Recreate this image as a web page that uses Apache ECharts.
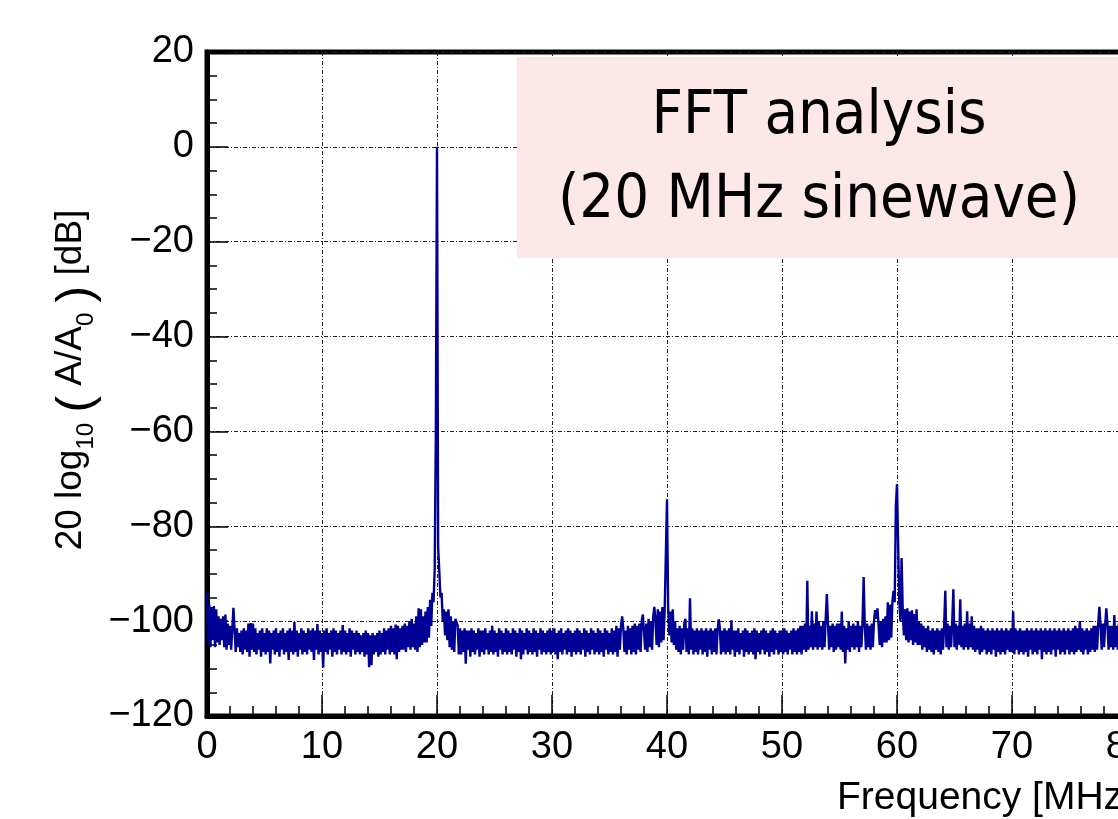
<!DOCTYPE html>
<html>
<head>
<meta charset="utf-8">
<title>FFT analysis</title>
<script src="https://cdn.jsdelivr.net/npm/echarts@6/dist/echarts.min.js"></script>
<style>
html, body { margin: 0; padding: 0; background: #fff; }
#chart_fft { width: 1118px; height: 819px; }
</style>
</head>
<body>
<div id="chart_fft"></div>
<script>
//FFT bin width (MHz), bins start at 0 MHz
var binWidth = 0.1;
//amplitude per bin [dB], 10 bins per line (one line = 1 MHz)
var dbValues = [
	-94, -104.5, -96.5, -105.5, -97, -104, -96.8, -105.5, -97.5, -104.5,
	-99, -105, -99.5, -104, -99, -105.5, -98.6, -106, -100.5, -105,
	-101, -106, -101.5, -97.2, -102, -106.5, -101.5, -105.5, -102.5, -106.5,
	-102, -107, -101.5, -106, -102, -106.5, -100.5, -107.5, -100.4, -106,
	-100.5, -106.5, -101.5, -107, -102.5, -106, -102, -107.5, -101.5, -106.5,
	-102.5, -107, -101.5, -106.5, -102, -108.9, -102.5, -106, -102, -107,
	-101.5, -106.5, -102.5, -107.5, -102, -106, -101.5, -107, -102.5, -106.5,
	-102, -108.2, -101.5, -106.5, -102, -107, -100.2, -106.5, -102, -107.5,
	-102.5, -106, -101.5, -107, -102, -106.5, -102.5, -107, -101.5, -106,
	-102, -106.5, -101.5, -108.2, -102, -106, -100.6, -107, -102, -106.5,
	-102.5, -109.8, -102, -106.5, -101.5, -107, -102.5, -106, -102, -107.5,
	-101.5, -106.5, -102, -107, -102.5, -106, -102, -107, -100.8, -106.5,
	-102, -107, -102.5, -106.5, -101.5, -107.5, -102, -106, -102.5, -107,
	-102, -106.5, -102.5, -107, -103, -106.5, -102.5, -107.5, -102, -107,
	-102.5, -109.7, -103, -109.3, -102.5, -107, -103, -106.5, -102.5, -107.5,
	-102, -107, -102.5, -106.5, -101.5, -107, -102, -106, -101.5, -107,
	-101, -106.5, -101.5, -107, -100.7, -108, -101, -106.5, -101.5, -106,
	-101, -106, -100.5, -106.5, -101, -105.5, -100, -106, -99.5, -105.5,
	-100.5, -106, -99, -106.5, -97.3, -105.5, -97.5, -105, -99, -104.5,
	-98, -104.5, -97, -103.5, -95.5, -101, -94, -96, -89, -60,
	0, -84.5, -89.5, -95, -94, -100, -97.5, -103, -98, -104,
	-97.5, -105.5, -99, -106, -100, -106.5, -99.5, -99.1, -101, -107,
	-101.5, -107, -102, -106.5, -101.5, -109, -102, -106, -102, -107.5,
	-101.5, -106.5, -102, -107, -102.5, -106, -101.5, -107.5, -102, -106.5,
	-102, -107, -101.5, -106, -102.5, -107, -102, -106.5, -101, -107,
	-102, -106.5, -102.5, -107.5, -101.5, -106, -102, -107, -102.5, -106.5,
	-101.5, -107, -102, -106.5, -102.5, -107, -101.5, -106, -102, -107.5,
	-102.5, -106.5, -101.5, -108, -102, -107, -102.5, -106, -101.5, -107,
	-102, -106.5, -102.5, -107, -101.5, -106.5, -102, -107.5, -102.5, -106,
	-101.5, -107, -102, -106.5, -102.5, -107, -102, -106.5, -101.5, -107,
	-102, -106.5, -101.5, -107, -102.5, -108, -102, -106.5, -101.5, -107,
	-102.5, -106, -102, -107, -101.5, -106.5, -102, -107.5, -102.5, -106.5,
	-102, -107, -101.5, -106.5, -102, -107, -102.5, -106, -101.5, -107.5,
	-102, -106.5, -102.5, -107, -101.5, -106, -102, -107, -102.5, -106.5,
	-101.5, -107, -102, -106.5, -102.5, -107.5, -101.5, -106, -102, -107,
	-102.5, -106.5, -101.5, -107, -102, -106.5, -101, -107.5, -101.5, -106,
	-101, -99, -101.5, -106.5, -102, -107, -101, -106, -101.5, -107,
	-101, -106.5, -100.5, -107, -101, -106, -100.5, -106.5, -100, -98.6,
	-98.2, -106, -100.5, -106.5, -99.5, -105.5, -100, -106, -99, -97,
	-100, -105, -97.5, -105.5, -98, -104.5, -97, -104, -97.5, -86,
	-74.3, -97, -103, -98, -104.5, -97.5, -105, -100, -106, -101.5,
	-106.5, -101, -107, -101.5, -106, -100.5, -99.5, -106.5, -101.5, -107,
	-95.2, -106, -101.5, -107, -102, -106.5, -101.5, -107, -102, -106,
	-101.5, -107, -102, -106.5, -101.5, -107.5, -102, -106, -101.5, -107,
	-102, -106.5, -101.5, -107, -102, -99.6, -101.5, -107, -102, -106.5,
	-101.5, -107, -102, -106.5, -101.5, -107, -99.8, -106, -102, -107.5,
	-102, -106.5, -101.5, -107, -102.5, -106, -102, -107.5, -101.5, -106.5,
	-102, -107, -102.5, -106.5, -102, -107, -101.5, -108, -102, -106.5,
	-102.5, -107, -102, -106, -101.5, -107, -102, -106.5, -102.5, -107.5,
	-102, -106.5, -101.5, -107, -102, -106, -102.5, -107, -102, -106.5,
	-102, -107, -101.5, -106.5, -102, -107, -102.5, -106, -102, -107,
	-101.5, -106.5, -102, -107, -101.5, -106.5, -101, -107, -101, -106,
	-100.5, -106.5, -91.5, -106, -101, -105.5, -97.9, -106, -100.5, -105.5,
	-98, -106, -100, -105.5, -101, -106, -100, -105.5, -99.5, -94.3,
	-100.5, -106, -101, -105.5, -100.5, -106.5, -101, -106, -100.5, -105.5,
	-100.5, -106, -98, -106.5, -101, -108.9, -101.5, -106, -100, -106.5,
	-101, -105.5, -100.5, -106, -101, -105.5, -100, -106.5, -101, -105.5,
	-100.5, -90.7, -101, -106, -100.5, -105.5, -101, -106, -100.5, -105.5,
	-100, -97.7, -99.5, -97.3, -101, -105, -100, -105.5, -99.5, -104.5,
	-99, -104.5, -96, -104, -96.5, -103.5, -96, -93.6, -96, -75.8,
	-71.1, -84, -96, -100, -86.7, -98, -103, -97.5, -104, -97.3,
	-104.5, -98, -104, -97.7, -105, -98.5, -104.5, -97.5, -105, -100,
	-105, -100.5, -106, -101, -105.5, -101.5, -106.5, -101, -106, -102,
	-106.5, -101.5, -107, -102, -106, -101.5, -106.5, -102, -107, -101.5,
	-106, -101, -93.6, -105.5, -100.5, -106, -101, -105.5, -100.5, -93.3,
	-105.5, -100.5, -106, -101, -105, -95.4, -105.5, -101, -106, -100.5,
	-105.5, -97.9, -106, -100.5, -105.5, -99, -106, -101, -106.5, -101.5,
	-106, -101.5, -107, -101, -106.5, -101.5, -106, -102, -107, -101.5,
	-106.5, -102, -107, -101.5, -106, -102, -107.5, -101.5, -106.5, -102,
	-107, -101.5, -106.5, -102, -107, -101.5, -106, -102, -106.5, -101.5,
	-106.5, -97.9, -107, -101.5, -106, -102, -107, -101.5, -106.5, -102,
	-107, -102, -106.5, -101.5, -107.5, -102, -106, -101.5, -107, -102,
	-106.5, -101.5, -107, -102, -106, -101.5, -108, -102, -106.5, -101.5,
	-107, -102, -106.5, -101.5, -107, -102, -106, -101.5, -107.5, -102,
	-106, -101.5, -107, -102, -106.5, -101.5, -107, -102, -106, -101.5,
	-107, -102, -106.5, -101.5, -107, -101, -106.5, -101.5, -106, -100,
	-106.5, -101.5, -107, -102, -106, -101.5, -107, -102, -106.5, -101.5,
	-106, -101, -106.5, -101, -106, -100.5, -97, -101, -106, -100.5,
	-105.5, -101, -97.3, -100.5, -106, -101, -105.5, -101, -106, -98.7,
	-105.5, -101, -106, -100.5, -105.5, -101, -106, -100.5, -105.5, -101,
	-106
];
//axis ranges [MHz] / [dB]
var freqMin = 0, freqMax = 100, freqStep = 10;
var dbMin = -120, dbMax = 20, dbStep = 20;

var fftData = dbValues.map(function(v, i) {
	return [Math.round(i * binWidth * 10) / 10, v];
});

var gridDash = {
	color: '#222',
	width: 1,
	type: [4, 2, 1, 2]
};

var option_fft = {
	animation: false,
	backgroundColor: '#fff',
	grid: {
		left: 207,
		top: 52,
		width: 1150,
		height: 664,
		outerBoundsMode: 'none',
		containLabel: false,
		show: true,
		borderColor: '#000',
		borderWidth: 5,
		backgroundColor: 'transparent'
	},
	xAxis: {
		type: 'value',
		min: freqMin,
		max: freqMax,
		interval: freqStep,
		axisLine: { show: true, onZero: false, lineStyle: { color: '#000', width: 5 } },
		axisTick: { show: true, inside: true, length: 21, lineStyle: { color: '#000', width: 1.5 } },
		minorTick: { show: true, splitNumber: 5, length: 10, lineStyle: { color: '#000', width: 1.5 } },
		axisLabel: {
			color: '#000',
			fontFamily: 'Liberation Sans',
			fontSize: 38,
			margin: 13
		},
		splitLine: { show: true, lineStyle: gridDash }
	},
	yAxis: {
		type: 'value',
		min: dbMin,
		max: dbMax,
		interval: dbStep,
		axisLine: { show: true, onZero: false, lineStyle: { color: '#000', width: 5 } },
		axisTick: { show: true, inside: true, length: 21, lineStyle: { color: '#000', width: 1.5 } },
		minorTick: { show: true, splitNumber: 4, length: 10, lineStyle: { color: '#000', width: 1.5 } },
		axisLabel: {
			color: '#000',
			fontFamily: 'Liberation Sans',
			fontSize: 38,
			margin: 13,
			formatter: function(v) {
				return String(v).replace('-', '\u2212');
			}
		},
		splitLine: { show: true, lineStyle: gridDash }
	},
	graphic: [{
		type: 'rect',
		z: 10,
		shape: { x: 517, y: 57, width: 700, height: 201 },
		style: { fill: '#fde8e8' }
	}, {
		type: 'text',
		z: 11,
		x: 819,
		y: 117,
		style: {
			text: 'FFT analysis',
			fill: '#000',
			font: '61px "DejaVu Sans Condensed", "Liberation Sans Narrow", sans-serif',
			align: 'center',
			verticalAlign: 'middle'
		}
	}, {
		type: 'text',
		z: 11,
		x: 819,
		y: 201,
		style: {
			text: '(20 MHz sinewave)',
			fill: '#000',
			font: '61px "DejaVu Sans Condensed", "Liberation Sans Narrow", sans-serif',
			align: 'center',
			verticalAlign: 'middle'
		}
	}, {
		type: 'text',
		z: 11,
		x: 837,
		y: 798,
		style: {
			text: 'Frequency [MHz]',
			fill: '#000',
			font: '39px "Liberation Sans", sans-serif',
			align: 'left',
			verticalAlign: 'middle'
		}
	}, {
		type: 'text',
		z: 11,
		x: 75,
		y: 380,
		rotation: Math.PI / 2,
		style: {
			text: '{a|20 log}{s|10}{a| }{p|(}{a| A/A}{s|0}{a| }{p|)}{a| [dB]}',
			fill: '#000',
			align: 'center',
			verticalAlign: 'middle',
			rich: {
				a: { fontFamily: 'Liberation Sans', fontSize: 37, lineHeight: 46, verticalAlign: 'top' },
				s: { fontFamily: 'Liberation Sans', fontSize: 24, lineHeight: 24, verticalAlign: 'top', padding: [22, 0, 0, 0] },
				p: { fontFamily: 'Liberation Sans', fontSize: 50, lineHeight: 46, verticalAlign: 'top' }
			}
		}
	}],
	series: [{
		type: 'line',
		data: fftData,
		showSymbol: false,
		symbol: 'none',
		sampling: null,
		silent: true,
		z: 5,
		lineStyle: {
			width: 2.4,
			color: '#000096'
		}
	}]
};

var fftEchart = echarts.init(document.getElementById('chart_fft'));
fftEchart.setOption(option_fft);
</script>
</body>
</html>
